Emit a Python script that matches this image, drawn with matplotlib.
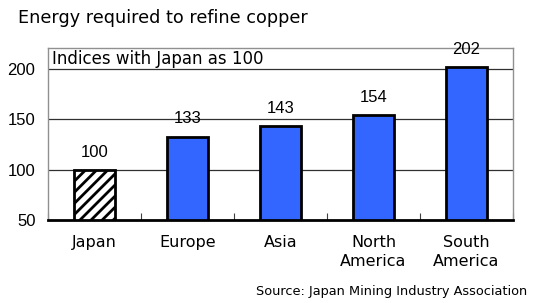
import matplotlib
matplotlib.use("Agg")
import matplotlib.pyplot as plt
import numpy as np

categories = ["Japan", "Europe", "Asia", "North\nAmerica", "South\nAmerica"]
values = [100, 133, 143, 154, 202]
yticks = [50, 100, 150, 200]

plt.rcParams['font.family'] = ['DejaVu Sans']
plt.rcParams['hatch.linewidth'] = 2.0
NUMFONT = 'Liberation Sans'

fig = plt.figure(figsize=(5.35, 3.03), dpi=100)
W, H = 535, 303
ax = fig.add_axes([48 / W, 1 - 220 / H, (513 - 48) / W, (220 - 48) / H])

x = np.arange(len(categories))
colors = ['white'] + ['#3366ff'] * (len(values) - 1)
bars = ax.bar(x, values, width=0.44, bottom=0, color=colors,
              edgecolor='black', linewidth=2.0, zorder=3)
bars[0].set_hatch('///')

ax.set_ylim(50, 221)
ax.set_xlim(-0.5, len(categories) - 0.5)
ax.set_yticks(yticks)
ax.set_yticklabels([str(v) for v in yticks], fontsize=12, family=NUMFONT)
ax.tick_params(axis='y', length=0, pad=9)
for yv in yticks[1:]:
    ax.axhline(yv, color='#303030', linewidth=0.9, zorder=1)

ax.set_xticks(x)
ax.set_xticklabels(categories, fontsize=11.5, linespacing=1.35)
ax.tick_params(axis='x', length=0, pad=11)
ax.set_xticks(np.arange(len(categories) + 1) - 0.5, minor=True)
ax.tick_params(axis='x', which='minor', direction='in', length=5,
               width=0.8, color='#404040')

for s in ['left', 'top', 'right']:
    ax.spines[s].set_color('#909090')
    ax.spines[s].set_linewidth(1.0)
ax.spines['bottom'].set_color('black')
ax.spines['bottom'].set_linewidth(2.0)
ax.spines['bottom'].set_zorder(4)

for xi, v in zip(x, values):
    ax.text(xi, v + 17.5, str(v), ha='center', va='center', fontsize=12,
            family=NUMFONT, zorder=5, clip_on=False)

ax.text(0.009, 0.99, "Indices with Japan as 100", transform=ax.transAxes,
        ha='left', va='top', fontsize=12, zorder=5)

fig.text(18 / W, 1 - 18 / H, "Energy required to refine copper",
         ha='left', va='center', fontsize=12.7)
fig.text(527 / W, 1 - 292 / H, "Source: Japan Mining Industry Association",
         ha='right', va='center', fontsize=9.3)

fig.savefig("out.png", dpi=100)
